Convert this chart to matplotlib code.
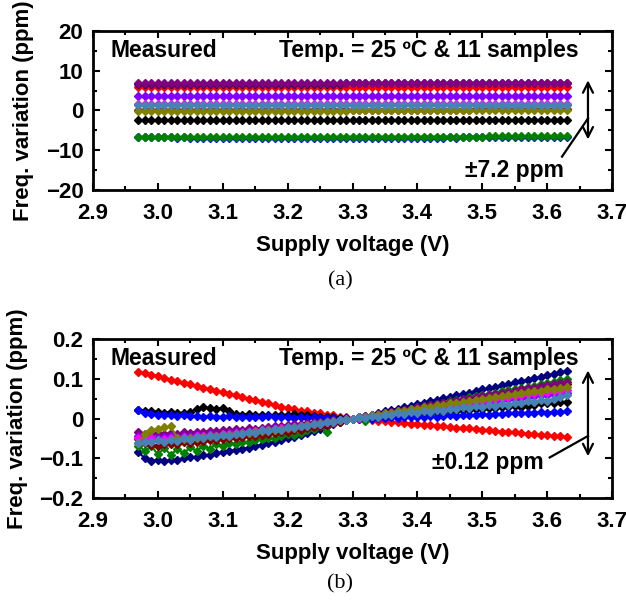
import matplotlib
matplotlib.use("Agg")
import matplotlib.pyplot as plt
import numpy as np

plt.rcParams['font.family'] = ['Liberation Sans', 'DejaVu Sans']
plt.rcParams['font.weight'] = 'bold'
plt.rcParams['font.size'] = 16

# supply voltage sweep, 10 mV steps
voltage = np.round(np.arange(2.97, 3.635, 0.01), 2)

# (b) normalised variation per sample (ppm)
v_red = [0.118,0.114,0.110,0.106,0.102,0.098,0.094,0.090,0.086,0.082,0.078,0.074,0.070,0.066,0.062,0.058,0.054,0.050,0.046,0.042,0.038,0.034,0.030,0.026,
         0.023,0.020,0.018,0.015,0.013,0.010,0.008,0.005,0.003,0.000,
         -0.001,-0.003,-0.004,-0.006,-0.007,-0.009,-0.010,-0.011,-0.013,-0.014,-0.016,-0.017,-0.018,-0.020,-0.021,-0.023,-0.024,-0.025,-0.027,-0.028,-0.030,-0.031,-0.033,-0.034,-0.035,-0.037,-0.038,-0.040,-0.041,-0.042,-0.044,-0.045,-0.047]
v_black = [0.022,0.020,0.018,0.017,0.015,0.016,0.014,0.015,0.016,0.025,0.028,0.026,0.024,0.027,0.018,0.012,0.010,0.011,0.009,0.010,0.008,0.009,0.008,0.010,0.011,0.009,0.008,0.006,0.005,0.004,0.003,0.002,0.001,0.000,
           0.001,0.002,0.003,0.004,0.006,0.007,0.008,0.009,0.011,0.012,0.013,0.014,0.016,0.017,0.018,0.019,0.021,0.022,0.023,0.024,0.026,0.027,0.028,0.029,0.031,0.030,0.032,0.035,0.038,0.039,0.040,0.041,0.042]
v_blue = [0.022,0.015,0.011,0.010,0.008,0.009,0.007,0.008,0.006,0.007,0.005,0.006,0.004,0.005,0.006,0.004,0.005,0.003,0.005,0.004,0.006,0.004,0.003,0.004,0.002,0.003,0.001,0.003,0.002,0.001,0.002,0.000,0.001,0.000,
          -0.001,0.001,-0.002,0.002,0.001,0.003,0.002,0.004,0.003,0.005,0.004,0.006,0.005,0.007,0.008,0.007,0.009,0.008,0.010,0.011,0.010,0.012,0.011,0.013,0.014,0.013,0.015,0.014,0.016,0.015,0.017,0.016,0.018]
v_navy = [-0.085,-0.100,-0.106,-0.105,-0.107,-0.104,-0.105,-0.100,-0.098,-0.096,-0.093,-0.091,-0.088,-0.085,-0.082,-0.079,-0.076,-0.073,-0.070,-0.066,-0.062,-0.058,-0.054,-0.050,-0.046,-0.041,-0.036,-0.031,-0.026,-0.020,-0.015,-0.010,-0.005,0.000,
          0.003,0.007,0.010,0.014,0.018,0.021,0.025,0.029,0.032,0.036,0.040,0.043,0.047,0.051,0.054,0.058,0.062,0.065,0.069,0.073,0.076,0.080,0.084,0.087,0.091,0.094,0.098,0.101,0.105,0.109,0.112,0.116,0.120]
v_green = [-0.068,-0.082,-0.070,-0.090,-0.074,-0.092,-0.076,-0.088,-0.072,-0.082,-0.068,-0.076,-0.064,-0.070,-0.062,-0.064,-0.058,-0.060,-0.054,-0.052,-0.048,-0.050,-0.044,-0.040,-0.042,-0.036,-0.030,-0.026,-0.020,-0.034,-0.012,-0.008,-0.004,0.000,
           0.002,-0.006,0.006,0.010,0.013,0.016,0.019,0.022,0.025,0.028,0.031,0.034,0.037,0.040,0.043,0.046,0.050,0.053,0.056,0.059,0.062,0.065,0.068,0.071,0.074,0.077,0.080,0.083,0.086,0.089,0.092,0.096,0.100]
v_darkred = [-0.052,-0.062,-0.066,-0.068,-0.065,-0.063,-0.064,-0.060,-0.061,-0.058,-0.057,-0.055,-0.054,-0.052,-0.050,-0.049,-0.047,-0.045,-0.043,-0.041,-0.039,-0.037,-0.035,-0.033,-0.030,-0.028,-0.025,-0.022,-0.019,-0.016,-0.012,-0.008,-0.004,0.000,
             0.003,0.005,0.008,0.011,0.014,0.016,0.019,0.022,0.024,0.027,0.030,0.033,0.035,0.038,0.041,0.043,0.046,0.049,0.052,0.054,0.057,0.060,0.062,0.065,0.068,0.071,0.073,0.076,0.079,0.081,0.084,0.086,0.088]
v_purple = [-0.033,-0.038,-0.040,-0.037,-0.039,-0.036,-0.038,-0.035,-0.036,-0.033,-0.034,-0.031,-0.032,-0.029,-0.030,-0.027,-0.028,-0.025,-0.026,-0.023,-0.022,-0.020,-0.019,-0.017,-0.015,-0.014,-0.012,-0.010,-0.009,-0.007,-0.005,-0.004,-0.002,0.000,
            0.003,0.006,0.008,0.011,0.014,0.017,0.020,0.022,0.025,0.028,0.031,0.034,0.036,0.039,0.042,0.045,0.048,0.050,0.053,0.056,0.059,0.062,0.064,0.067,0.070,0.073,0.076,0.078,0.081,0.084,0.087,0.090,0.092]
v_violet = [-0.044,-0.048,-0.046,-0.049,-0.047,-0.045,-0.046,-0.044,-0.045,-0.042,-0.043,-0.040,-0.041,-0.038,-0.037,-0.035,-0.034,-0.032,-0.031,-0.029,-0.027,-0.025,-0.024,-0.022,-0.020,-0.018,-0.016,-0.014,-0.012,-0.009,-0.007,-0.005,-0.002,0.000,
            0.002,0.004,0.006,0.008,0.010,0.012,0.014,0.016,0.018,0.020,0.022,0.024,0.026,0.028,0.030,0.032,0.034,0.036,0.038,0.040,0.042,0.044,0.046,0.048,0.050,0.052,0.054,0.056,0.058,0.060,0.062,0.064,0.065]
v_magenta = [-0.048,-0.052,-0.050,-0.053,-0.051,-0.049,-0.050,-0.047,-0.048,-0.045,-0.044,-0.042,-0.043,-0.040,-0.039,-0.037,-0.036,-0.034,-0.032,-0.030,-0.029,-0.027,-0.025,-0.023,-0.021,-0.019,-0.017,-0.015,-0.013,-0.010,-0.008,-0.005,-0.003,0.000,
             0.002,0.004,0.007,0.009,0.011,0.013,0.016,0.018,0.020,0.022,0.025,0.027,0.029,0.031,0.034,0.036,0.038,0.040,0.043,0.045,0.047,0.049,0.052,0.054,0.056,0.058,0.061,0.063,0.065,0.067,0.069,0.070,0.072]
v_olive = [-0.062,-0.040,-0.028,-0.026,-0.022,-0.020,-0.050,-0.052,-0.050,-0.048,-0.047,-0.045,-0.044,-0.042,-0.041,-0.039,-0.037,-0.036,-0.034,-0.032,-0.030,-0.028,-0.026,-0.024,-0.022,-0.020,-0.017,-0.015,-0.012,-0.010,-0.007,-0.005,-0.002,0.000,
           0.003,0.005,0.008,0.010,0.013,0.015,0.018,0.020,0.023,0.025,0.028,0.030,0.033,0.035,0.038,0.040,0.042,0.045,0.047,0.050,0.052,0.055,0.057,0.060,0.062,0.064,0.066,0.068,0.070,0.073,0.075,0.078,0.080]
v_steel = [-0.062,-0.058,-0.060,-0.055,-0.058,-0.053,-0.056,-0.050,-0.053,-0.047,-0.050,-0.044,-0.047,-0.041,-0.044,-0.038,-0.040,-0.034,-0.036,-0.030,-0.032,-0.026,-0.028,-0.022,-0.024,-0.018,-0.019,-0.013,-0.014,-0.008,-0.009,-0.004,-0.003,0.000,
           0.004,0.002,0.007,0.005,0.010,0.008,0.013,0.011,0.016,0.014,0.019,0.017,0.022,0.020,0.025,0.023,0.028,0.026,0.031,0.029,0.034,0.032,0.037,0.035,0.040,0.038,0.043,0.041,0.046,0.044,0.050,0.053,0.058]

series = [v_red, v_black, v_blue, v_navy, v_green, v_darkred, v_purple, v_violet, v_magenta, v_olive, v_steel]
colors = ['#ff0000', '#000000', '#0000ff', '#000080', '#008000', '#800000', '#800080', '#8000ff', '#ff00ff', '#808000', '#4682b4']
# (a) absolute offset of each sample at 3.3 V (ppm)
offsets = [5.9, -2.5, -6.8, 6.8, -6.6, 0.2, 6.9, 3.6, 1.6, 0.0, 1.4]

fig = plt.figure(figsize=(6.26, 6.03), dpi=100)
ax1 = fig.add_axes([0.1486, 0.6849, 0.829, 0.2637])
ax2 = fig.add_axes([0.1486, 0.1741, 0.829, 0.2637])

for s, c, off in zip(series, colors, offsets):
    ax1.plot(voltage, off + np.array(s), color=c, lw=1.5, marker='D', ms=4, mec=c, mfc=c)
    ax2.plot(voltage, s, color=c, lw=1.5, marker='D', ms=4, mec=c, mfc=c)

for ax in (ax1, ax2):
    ax.set_xlim(2.9, 3.7)
    ax.set_xticks(np.arange(2.9, 3.71, 0.1))
    ax.set_xticks(np.arange(2.95, 3.7, 0.1), minor=True)
    ax.set_xticklabels(['%.1f' % t for t in np.arange(2.9, 3.71, 0.1)])
    ax.tick_params(which='both', direction='in', top=True, right=True, width=1.5)
    ax.tick_params(which='major', length=5, labelsize=16)
    ax.tick_params(axis='x', which='major', pad=9)
    ax.tick_params(axis='y', which='major', pad=7)
    ax.tick_params(which='minor', length=3)
    for sp in ax.spines.values():
        sp.set_linewidth(2)
    ax.set_xlabel('Supply voltage (V)', fontsize=16, fontweight='bold', labelpad=8)
    ax.set_ylabel('Freq. variation (ppm)', fontsize=16, fontweight='bold', labelpad=8)
    ax.text(0.033, 0.88, 'Measured', transform=ax.transAxes, fontsize=16.5, fontweight='bold', va='center')
    ax.text(0.935, 0.88, 'Temp. = 25 ºC & 11 samples', transform=ax.transAxes, fontsize=16.5, fontweight='bold', va='center', ha='right')

ax1.set_ylim(-20, 20)
ax1.set_yticks([-20, -10, 0, 10, 20])
ax1.set_yticks([-15, -5, 5, 15], minor=True)
ax1.set_yticklabels(['\u221220', '\u221210', '0', '10', '20'])
ax1.annotate('', xy=(3.663, 8.3), xytext=(3.663, -8.0),
             arrowprops=dict(arrowstyle='<->', lw=1.6, color='black', mutation_scale=18))
ax1.plot([3.623, 3.663], [-11.6, -2.0], color='black', lw=1.6)
ax1.text(3.55, -15.0, '\u00b17.2 ppm', fontsize=16.5, fontweight='bold', ha='center', va='center')

ax2.set_ylim(-0.2, 0.2)
ax2.set_yticks([-0.2, -0.1, 0, 0.1, 0.2])
ax2.set_yticks([-0.15, -0.05, 0.05, 0.15], minor=True)
ax2.set_yticklabels(['\u22120.2', '\u22120.1', '0', '0.1', '0.2'])
ax2.annotate('', xy=(3.663, 0.128), xytext=(3.663, -0.102),
             arrowprops=dict(arrowstyle='<->', lw=1.6, color='black', mutation_scale=18))
ax2.plot([3.604, 3.663], [-0.098, -0.044], color='black', lw=1.6)
ax2.text(3.509, -0.11, '\u00b10.12 ppm', fontsize=16.5, fontweight='bold', ha='center', va='center')

fig.text(0.543, 1 - 281 / 603, '(a)', family='Liberation Serif', fontweight='normal', fontsize=16, ha='center', va='center')
fig.text(0.543, 1 - 584 / 603, '(b)', family='Liberation Serif', fontweight='normal', fontsize=16, ha='center', va='center')

fig.savefig('out.png', dpi=100)
